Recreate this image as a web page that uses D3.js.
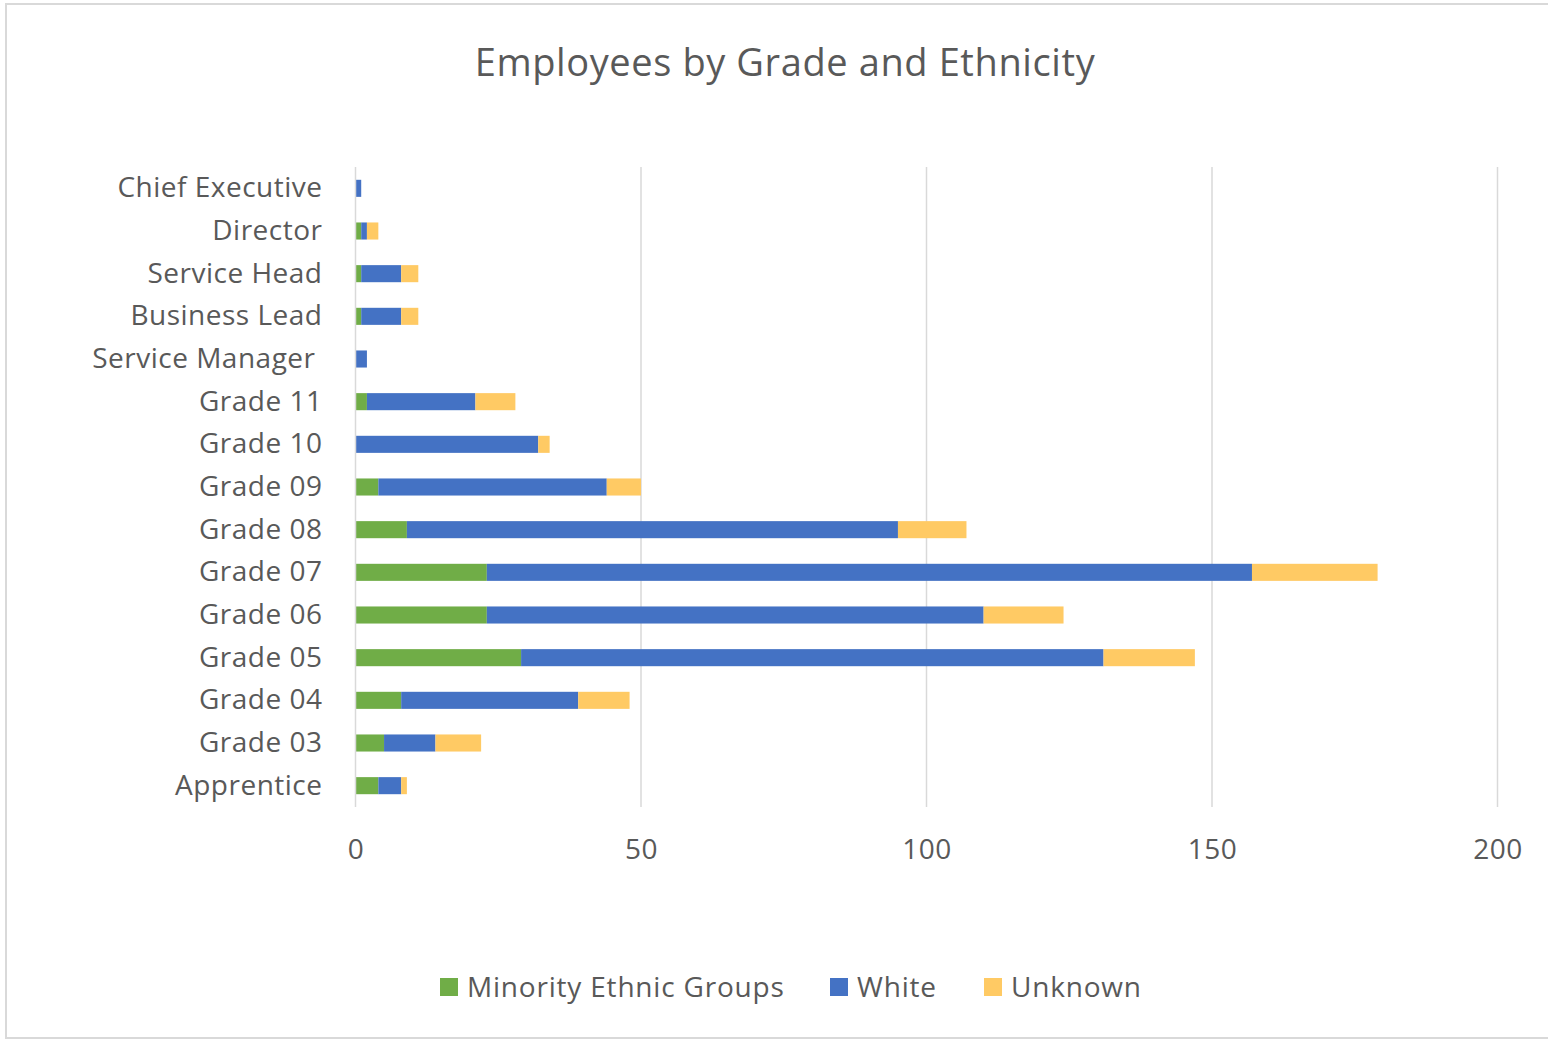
<!DOCTYPE html>
<html>
<head>
<meta charset="utf-8">
<script src="https://cdn.jsdelivr.net/npm/d3@7"></script>
<style>
  body { margin: 0; background: #fff; }
  text { font-family: "Open Sans", "Noto Sans", sans-serif; fill: #595959; }
</style>
</head>
<body>
<div id="chart"></div>
<script>
// Data
const grades = ["Chief Executive", "Director", "Service Head", "Business Lead", "Service Manager",
  "Grade 11", "Grade 10", "Grade 09", "Grade 08", "Grade 07", "Grade 06", "Grade 05",
  "Grade 04", "Grade 03", "Apprentice"];
const minority = [0, 1, 1, 1, 0, 2, 0, 4, 9, 23, 23, 29, 8, 5, 4];
const white = [1, 1, 7, 7, 2, 19, 32, 40, 86, 134, 87, 102, 31, 9, 4];
const unknown = [0, 2, 3, 3, 0, 7, 2, 6, 12, 22, 14, 16, 9, 8, 1];
const seriesNames = ["Minority Ethnic Groups", "White", "Unknown"];
const xTicks = [0, 50, 100, 150, 200];

const colors = ["#70AD47", "#4472C4", "#FFCA64"];

const table = grades.map((g, i) => ({
  grade: g,
  "Minority Ethnic Groups": minority[i],
  White: white[i],
  Unknown: unknown[i],
}));

// Dimensions
let dimensions = {
  width: 1548,
  height: 1041,
  margin: { top: 167, bottom: 234, left: 355.5, right: 50.5 },
};
dimensions.containerWidth = dimensions.width - dimensions.margin.left - dimensions.margin.right;
dimensions.containerHeight = dimensions.height - dimensions.margin.top - dimensions.margin.bottom;

const svg = d3.select("#chart")
  .append("svg")
  .attr("width", dimensions.width)
  .attr("height", dimensions.height);

// chart border
svg.append("rect")
  .attr("x", 6).attr("y", 4)
  .attr("width", dimensions.width + 10).attr("height", 1034)
  .attr("fill", "#fff")
  .attr("stroke", "#d9d9d9")
  .attr("stroke-width", 2);

svg.append("text")
  .attr("x", 785)
  .attr("y", 76)
  .attr("text-anchor", "middle")
  .style("font-size", "38px")
  .style("letter-spacing", "0.6px")
  .text("Employees by Grade and Ethnicity");

const container = svg.append("g")
  .attr("transform", `translate(${dimensions.margin.left}, ${dimensions.margin.top})`);

// Scales
const xScale = d3.scaleLinear()
  .domain([0, 200])
  .range([0, dimensions.containerWidth]);
const yScale = d3.scaleBand()
  .domain(grades)
  .range([0, dimensions.containerHeight])
  .paddingInner(0.6)
  .paddingOuter(0.3);

// Gridlines
container.append("g")
  .selectAll("line")
  .data(xTicks.slice(1))
  .join("line")
  .attr("x1", d => xScale(d)).attr("x2", d => xScale(d))
  .attr("y1", 0).attr("y2", dimensions.containerHeight)
  .attr("stroke", "#d9d9d9")
  .attr("stroke-width", 1.5);

// Stacked bars
const stacked = d3.stack().keys(seriesNames)(table);
container.append("g")
  .selectAll("g")
  .data(stacked)
  .join("g")
  .attr("fill", (d, i) => colors[i])
  .selectAll("rect")
  .data(d => d)
  .join("rect")
  .attr("x", d => xScale(d[0]))
  .attr("y", d => yScale(d.data.grade))
  .attr("width", d => xScale(d[1]) - xScale(d[0]))
  .attr("height", yScale.bandwidth());

// Y axis line
container.append("line")
  .attr("x1", 0).attr("x2", 0)
  .attr("y1", 0).attr("y2", dimensions.containerHeight)
  .attr("stroke", "#d9d9d9")
  .attr("stroke-width", 1.5);

// Axes
const xAxis = d3.axisBottom(xScale).tickValues(xTicks).tickSize(0).tickPadding(32);
const xAxisGroup = container.append("g")
  .attr("transform", `translate(0, ${dimensions.containerHeight})`)
  .call(xAxis);
xAxisGroup.select(".domain").remove();
xAxisGroup.selectAll("text")
  .style("font-size", "28px")
  .style("letter-spacing", "0.5px")
  .attr("fill", "#595959")
  .attr("font-family", null);

const yAxis = d3.axisLeft(yScale).tickSize(0).tickPadding(33);
const yAxisGroup = container.append("g").call(yAxis);
yAxisGroup.select(".domain").remove();
yAxisGroup.selectAll("text")
  .style("font-size", "28px")
  .style("letter-spacing", "0.5px")
  .attr("fill", "#595959")
  .attr("font-family", null)
  .attr("dx", d => d === "Service Manager" ? -7 : 0);

// Legend
const legendX = [440, 830, 984];
const legend = svg.append("g")
  .selectAll("g")
  .data(seriesNames)
  .join("g")
  .attr("transform", (d, i) => `translate(${legendX[i]}, 987)`);
legend.append("rect")
  .attr("x", 0).attr("y", -9)
  .attr("width", 18).attr("height", 18)
  .attr("fill", (d, i) => colors[i]);
legend.append("text")
  .attr("x", 27)
  .attr("y", 10)
  .style("font-size", "28px")
  .style("letter-spacing", "0.8px")
  .text(d => d);
</script>
</body>
</html>
